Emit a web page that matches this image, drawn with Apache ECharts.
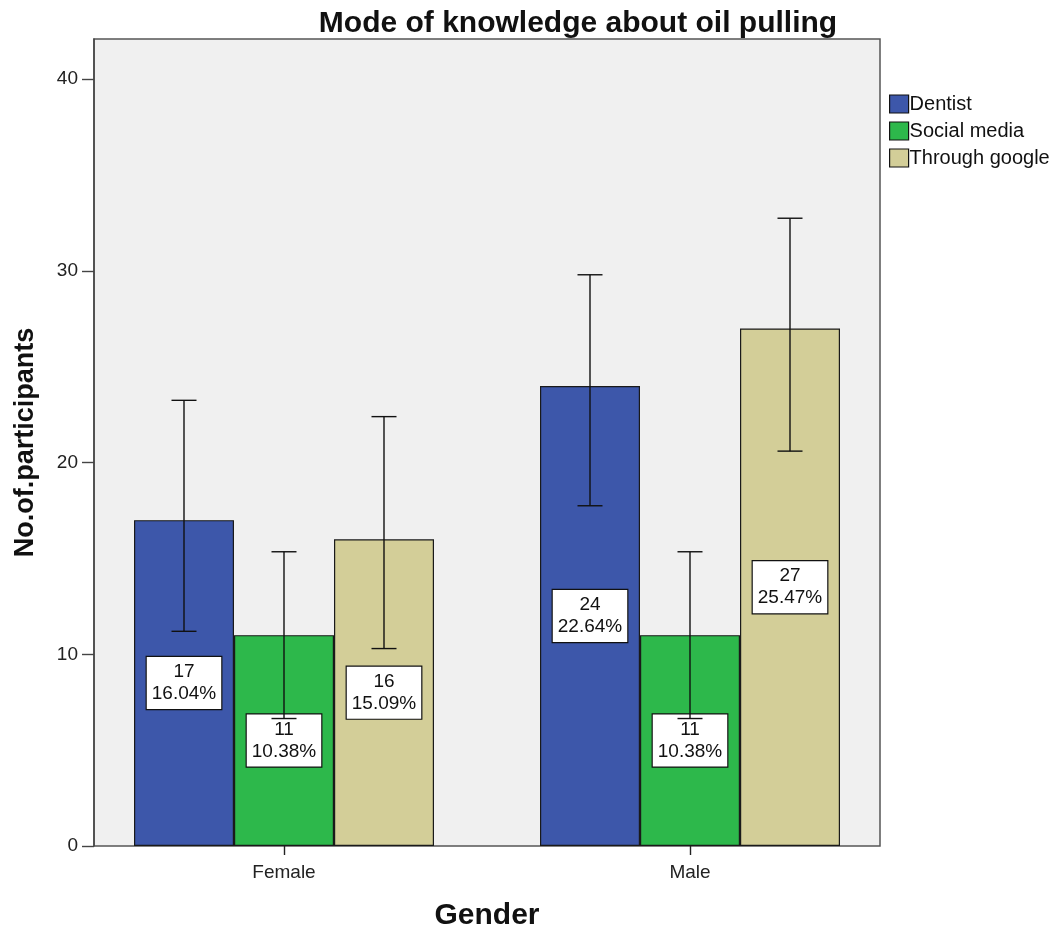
<!DOCTYPE html>
<html>
<head>
<meta charset="utf-8">
<script src="https://cdn.jsdelivr.net/npm/echarts@6/dist/echarts.min.js"></script>
<style>html,body{margin:0;padding:0;background:#fff;}#c{width:1056px;height:930px;}</style>
</head>
<body>
<div id="c"></div>
<script>
const categories = ['Female', 'Male'];
const seriesNames = ['Dentist', 'Social media', 'Through google'];
const dentist = [17, 24];
const socialMedia = [11, 11];
const google = [16, 27];
const dentistPct = ['16.04%', '22.64%'];
const socialPct = ['10.38%', '10.38%'];
const googlePct = ['15.09%', '25.47%'];
const dentistCI = [[11.2, 23.25], [17.75, 29.8]];
const socialCI = [[6.65, 15.35], [6.65, 15.35]];
const googleCI = [[10.3, 22.4], [20.6, 32.75]];
const yTicks = [0, 10, 20, 30, 40];

const colors = ['#3d57aa', '#2db84b', '#d3ce98'];
const values = [dentist, socialMedia, google];
const pcts = [dentistPct, socialPct, googlePct];
const cis = [dentistCI, socialCI, googleCI];
const BAR_W = 100;
const YMAX = 42.1;

const chart = echarts.init(document.getElementById('c'));
const font = 'Liberation Sans, Arial, sans-serif';

const series = [];
values.forEach((vals, s) => {
  series.push({
    name: seriesNames[s],
    type: 'bar',
    xAxisIndex: 1, yAxisIndex: 1,
    barWidth: BAR_W,
    barGap: '0%',
    itemStyle: { color: colors[s], borderColor: '#1a1a1a', borderWidth: 1.2 },
    label: {
      show: true,
      position: 'inside',
      formatter: p => vals[p.dataIndex] + '\n' + pcts[s][p.dataIndex],
      color: '#111',
      fontFamily: font,
      fontSize: 19,
      lineHeight: 22,
      backgroundColor: '#fff',
      borderColor: '#111',
      borderWidth: 1.2,
      padding: [5, 5, 3, 5]
    },
    z: 2,
    data: vals
  });
});
cis.forEach((ci, s) => {
  series.push({
    type: 'custom',
    xAxisIndex: 1, yAxisIndex: 1,
    z: 3,
    silent: true,
    renderItem: (params, api) => {
      const c = api.value(0);
      const lo = api.coord([c, api.value(1)]);
      const hi = api.coord([c, api.value(2)]);
      const x = lo[0] + (s - 1) * BAR_W;
      const half = 12.5;
      const st = { stroke: '#111', lineWidth: 1.4 };
      return {
        type: 'group',
        children: [
          { type: 'line', shape: { x1: x, y1: lo[1], x2: x, y2: hi[1] }, style: st },
          { type: 'line', shape: { x1: x - half, y1: lo[1], x2: x + half, y2: lo[1] }, style: st },
          { type: 'line', shape: { x1: x - half, y1: hi[1], x2: x + half, y2: hi[1] }, style: st }
        ]
      };
    },
    data: ci.map((d, i) => [i, d[0], d[1]])
  });
});

chart.setOption({
  animation: false,
  backgroundColor: '#fff',
  title: {
    text: 'Mode of knowledge about oil pulling',
    left: 573, top: 4, textAlign: 'center',
    textStyle: { fontFamily: font, fontSize: 30, fontWeight: 'bold', color: '#111' }
  },
  legend: {
    data: seriesNames,
    orient: 'vertical',
    left: 884, top: 89,
    itemWidth: 19, itemHeight: 18, itemGap: 7,
    icon: 'rect',
    textStyle: { fontFamily: font, fontSize: 20, lineHeight: 20, color: '#111', padding: [0, 0, 0, -4] },
    itemStyle: { borderColor: '#111', borderWidth: 1.2 }
  },
  grid: [
    { left: 94, top: 39, width: 786, height: 807, outerBoundsMode: 'none', containLabel: false, show: true, backgroundColor: '#f0f0f0', borderColor: '#555', borderWidth: 1.5 },
    { left: 81, top: 39, width: 812, height: 807, outerBoundsMode: 'none', containLabel: false }
  ],
  xAxis: [
    { gridIndex: 0, type: 'value', min: 0, max: 1, show: false },
    {
      gridIndex: 1, type: 'category', data: categories,
      axisLine: { show: false },
      axisTick: { show: true, alignWithLabel: true, length: 9, lineStyle: { color: '#222', width: 1.4 } },
      axisLabel: { fontFamily: font, fontSize: 19, color: '#222', margin: 17 },
      name: 'Gender', nameLocation: 'middle', nameGap: 55,
      nameTextStyle: { fontFamily: font, fontSize: 30, fontWeight: 'bold', color: '#111' }
    }
  ],
  yAxis: [
    {
      gridIndex: 0, type: 'value', min: 0, max: YMAX, interval: 10,
      splitLine: { show: false },
      axisLine: { show: true, lineStyle: { color: '#444', width: 1.5 } },
      axisTick: { show: true, length: 12, lineStyle: { color: '#444', width: 1.4 } },
      axisLabel: { fontFamily: font, fontSize: 19, color: '#222', margin: 16, showMaxLabel: false,
        formatter: v => yTicks.includes(v) ? String(v) : '' },
      name: 'No.of.participants', nameLocation: 'middle', nameGap: 55,
      nameTextStyle: { fontFamily: font, fontSize: 27, fontWeight: 'bold', color: '#111' }
    },
    { gridIndex: 1, type: 'value', min: 0, max: YMAX, show: false }
  ],
  series: series
});
</script>
</body>
</html>
